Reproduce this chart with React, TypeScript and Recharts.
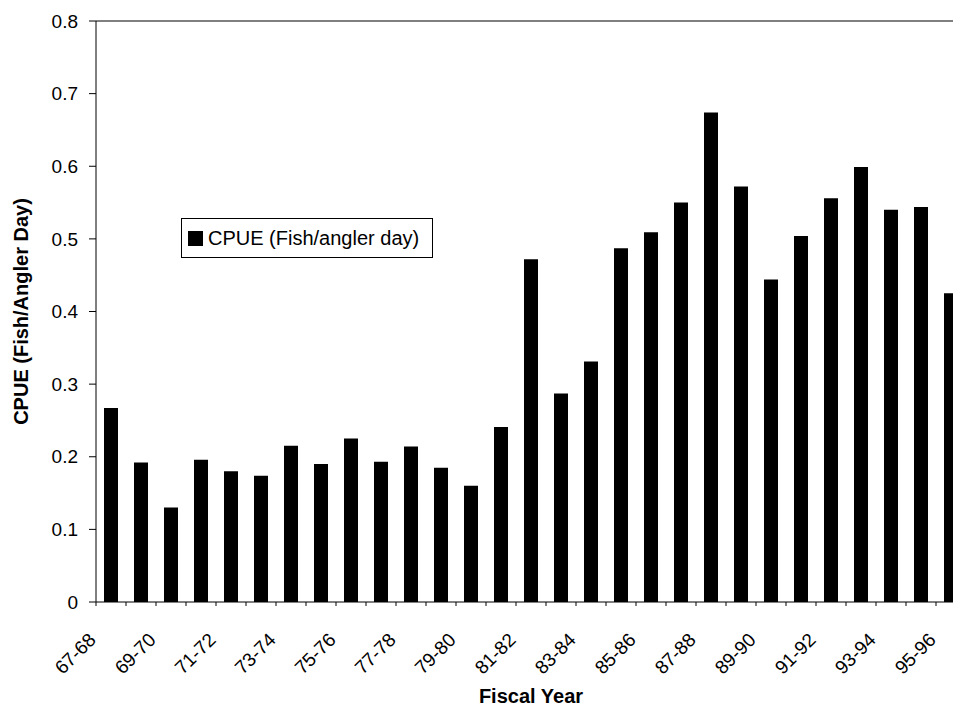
import React from 'react';
import { BarChart, Bar, XAxis, YAxis, ReferenceLine } from 'recharts';

const years = [
  '67-68', '68-69', '69-70', '70-71', '71-72', '72-73', '73-74', '74-75', '75-76', '76-77',
  '77-78', '78-79', '79-80', '80-81', '81-82', '82-83', '83-84', '84-85', '85-86', '86-87',
  '87-88', '88-89', '89-90', '90-91', '91-92', '92-93', '93-94', '94-95', '95-96',
];
const cpue = [
  0.267, 0.192, 0.130, 0.196, 0.180, 0.174, 0.215, 0.190, 0.225, 0.193,
  0.214, 0.185, 0.160, 0.241, 0.472, 0.287, 0.331, 0.487, 0.509, 0.550,
  0.674, 0.572, 0.444, 0.504, 0.556, 0.599, 0.540, 0.544, 0.425,
];
const yTicks = [0, 0.1, 0.2, 0.3, 0.4, 0.5, 0.6, 0.7, 0.8];
const seriesName = 'CPUE (Fish/angler day)';

const data = years.map((y, i) => ({ year: y, cpue: cpue[i] }));

const FONT = '"Liberation Sans", Arial, sans-serif';

const XTick = (props: any) => {
  const { x, y, payload, index } = props;
  const tx = x - 14;
  const ty = y + 39;
  return (
    <g>
      <line x1={x - 15} y1={y} x2={x - 15} y2={y + 4} stroke="#000" strokeWidth={1} />
      {index % 2 === 0 && (
        <text
          x={tx}
          y={ty}
          transform={`rotate(-45 ${tx} ${ty})`}
          textAnchor="end"
          fontSize={19}
          fontFamily={FONT}
          fill="#000"
        >
          {payload.value}
        </text>
      )}
    </g>
  );
};

const YTitle = (props: any) => {
  const vb = props.viewBox;
  const cx = 28;
  const cy = vb.y + vb.height / 2;
  return (
    <text
      x={cx}
      y={cy}
      transform={`rotate(-90 ${cx} ${cy})`}
      textAnchor="middle"
      fontSize={20}
      fontWeight="bold"
      fontFamily={FONT}
      fill="#000"
    >
      CPUE (Fish/Angler Day)
    </text>
  );
};

const XTitle = (props: any) => {
  const vb = props.viewBox;
  return (
    <text
      x={vb.x + vb.width / 2}
      y={vb.y + 101}
      textAnchor="middle"
      fontSize={20}
      fontWeight="bold"
      fontFamily={FONT}
      fill="#000"
    >
      Fiscal Year
    </text>
  );
};

export default function App() {
  return (
    <div style={{ position: 'absolute', left: 0, top: 0, width: 953, height: 707, overflow: 'hidden', background: '#fff' }}>
      <BarChart
        width={966}
        height={707}
        data={data}
        margin={{ top: 21, right: 0, bottom: 0, left: 0 }}
        barSize={14}
      >
        <ReferenceLine y={0.8} stroke="#000" strokeWidth={1} ifOverflow="visible" />
        <XAxis
          dataKey="year"
          interval={0}
          height={105}
          tickSize={0}
          tickMargin={0}
          tick={<XTick />}
          axisLine={{ stroke: '#000', strokeWidth: 1 }}
          label={<XTitle />}
        />
        <YAxis
          width={96}
          domain={[0, 0.8]}
          ticks={yTicks}
          interval={0}
          tickSize={7}
          tickMargin={11}
          tickFormatter={(v: number) => (v === 0 ? '0' : v.toFixed(1))}
          tick={{ fontSize: 19, fontFamily: FONT, fill: '#000' }}
          tickLine={{ stroke: '#000' }}
          axisLine={{ stroke: '#000', strokeWidth: 1 }}
          label={<YTitle />}
        />
        <Bar dataKey="cpue" name={seriesName} fill="#000" isAnimationActive={false} />
      </BarChart>
      <div
        style={{
          position: 'absolute',
          left: 181,
          top: 218,
          border: '1px solid #000',
          background: '#fff',
          width: 252,
          height: 40,
          display: 'flex',
          alignItems: 'center',
          paddingLeft: 6,
          boxSizing: 'border-box',
          fontFamily: FONT,
          fontSize: 20,
          color: '#000',
          whiteSpace: 'nowrap',
        }}
      >
        <span style={{ display: 'inline-block', width: 15, height: 15, background: '#000', marginRight: 5 }} />
        {seriesName}
      </div>
    </div>
  );
}
